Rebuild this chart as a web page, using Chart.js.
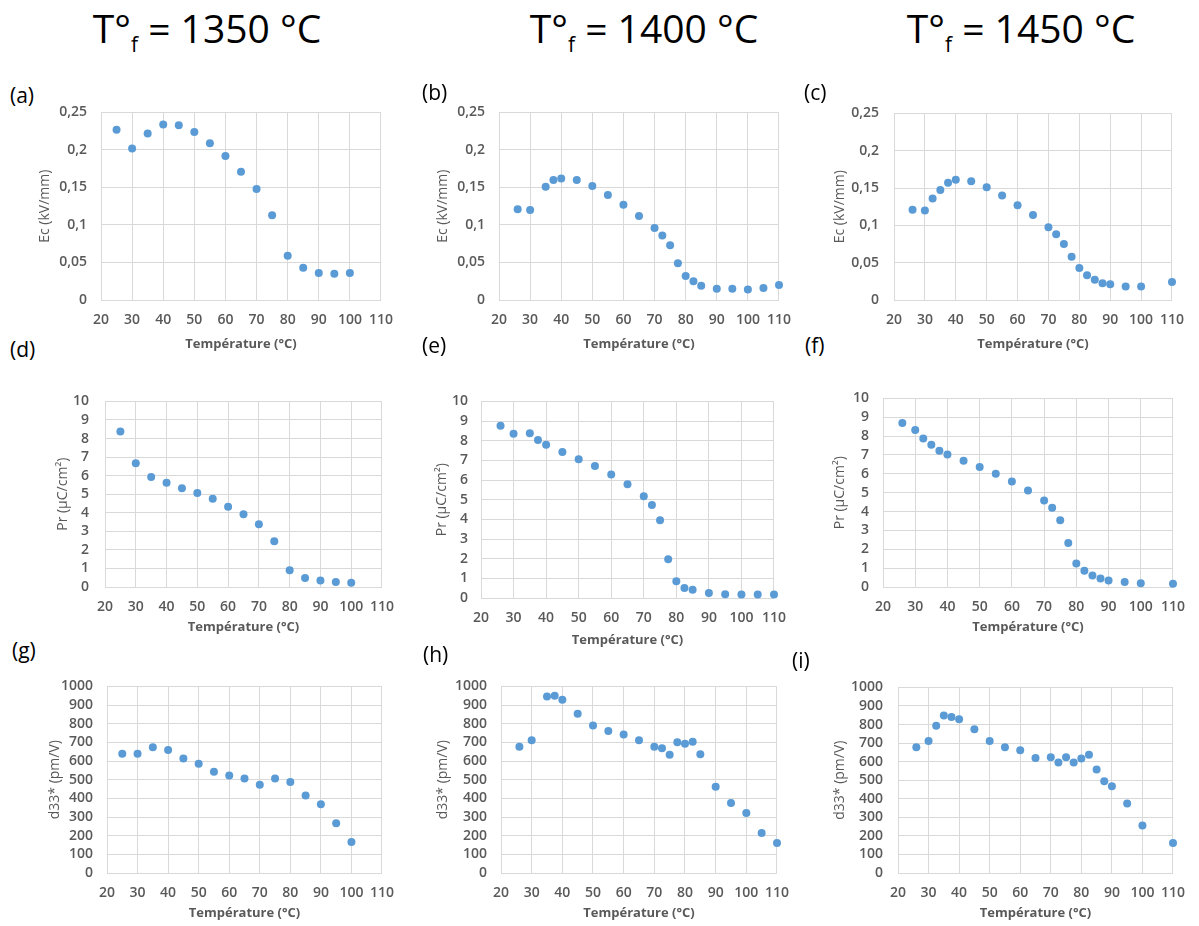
<!DOCTYPE html>
<html>
<head>
<meta charset="utf-8">
<script src="https://cdn.jsdelivr.net/npm/chart.js@4.4.0/dist/chart.umd.min.js"></script>
<style>
  body { margin: 0; background: #fff; width: 1199px; height: 926px; position: relative; overflow: hidden; }
  .titre { position: absolute; top: 8px; width: 300px; text-align: center; font-family: 'Open Sans', sans-serif; font-size: 39px; line-height: 1; color: #000; white-space: nowrap; }
  .titre sub { font-size: 21px; vertical-align: -9px; line-height: 0; }
  .lettre { position: absolute; font-family: 'Open Sans', sans-serif; font-size: 21px; color: #000; line-height: 1; }
  canvas { position: absolute; }
</style>
</head>
<body>
<div class="titre" style="left:57px">T°<sub>f</sub> = 1350 °C</div>
<div class="titre" style="left:494px">T°<sub>f</sub> = 1400 °C</div>
<div class="titre" style="left:871px">T°<sub>f</sub> = 1450 °C</div>

<script>
// températures (°C)
const temp1350 = [25, 30, 35, 40, 45, 50, 55, 60, 65, 70, 75, 80, 85, 90, 95, 100]
const temp1400 = [26, 30, 35, 37.5, 40, 45, 50, 55, 60, 65, 70, 72.5, 75, 77.5, 80, 82.5, 85, 90, 95, 100, 105, 110]
const temp1450 = [26, 30, 32.5, 35, 37.5, 40, 45, 50, 55, 60, 65, 70, 72.5, 75, 77.5, 80, 82.5, 85, 87.5, 90, 95, 100, 110]

// champ coercitif Ec (kV/mm)
const ec1350 = [0.227, 0.202, 0.222, 0.234, 0.233, 0.224, 0.209, 0.192, 0.171, 0.148, 0.113, 0.059, 0.043, 0.036, 0.035, 0.036]
const ec1400 = [0.121, 0.120, 0.151, 0.160, 0.162, 0.160, 0.152, 0.140, 0.127, 0.112, 0.096, 0.086, 0.073, 0.049, 0.032, 0.025, 0.019, 0.015, 0.015, 0.014, 0.016, 0.020]
const ec1450 = [0.121, 0.120, 0.136, 0.1475, 0.157, 0.161, 0.159, 0.151, 0.140, 0.127, 0.114, 0.0975, 0.088, 0.075, 0.058, 0.043, 0.033, 0.027, 0.0225, 0.021, 0.018, 0.018, 0.024]

// polarisation rémanente Pr (µC/cm²)
const pr1350 = [8.38, 6.67, 5.93, 5.62, 5.32, 5.07, 4.75, 4.33, 3.92, 3.38, 2.47, 0.90, 0.48, 0.35, 0.27, 0.23]
const pr1400 = [8.76, 8.35, 8.38, 8.04, 7.80, 7.43, 7.06, 6.71, 6.28, 5.78, 5.17, 4.73, 3.95, 1.97, 0.85, 0.51, 0.42, 0.26, 0.19, 0.18, 0.18, 0.18]
const pr1450 = [8.70, 8.32, 7.87, 7.54, 7.23, 7.03, 6.69, 6.36, 6.01, 5.60, 5.12, 4.58, 4.20, 3.54, 2.33, 1.25, 0.86, 0.61, 0.45, 0.35, 0.27, 0.20, 0.17]

// d33* (pm/V)
const d33_1350 = [639, 639, 674, 659, 614, 585, 543, 522, 507, 473, 507, 488, 415, 368, 266, 166]
const d33_1400 = [677, 711, 946, 950, 928, 854, 791, 761, 742, 711, 677, 669, 634, 701, 692, 704, 637, 462, 375, 321, 214, 161]
const d33_1450 = [677, 711, 794, 848, 841, 829, 774, 711, 677, 662, 619, 624, 595, 624, 595, 617, 637, 557, 495, 467, 375, 256, 162]

// étiquettes des axes
const ticksTemp = ['20', '30', '40', '50', '60', '70', '80', '90', '100', '110']
const ticksEc = ['0', '0,05', '0,1', '0,15', '0,2', '0,25']
const ticksPr = ['0', '1', '2', '3', '4', '5', '6', '7', '8', '9', '10']
const ticksD33 = ['0', '100', '200', '300', '400', '500', '600', '700', '800', '900', '1000']

const gris = '#d9d9d9'
const texte = '#595959'
const bleu = '#5b9bd5'

const panneau = (p) => {
    const padTop = 10, padRight = 18
    const W = p.axeX - p.titreY + 8      // largeur axe y
    const H = p.titreX + 8               // hauteur axe x
    const cv = document.createElement('canvas')
    cv.width = (p.droite - p.axeX) + W + padRight
    cv.height = (p.bas - p.haut) + padTop + H
    cv.style.left = (p.axeX - W) + 'px'
    cv.style.top = (p.haut - padTop) + 'px'
    document.body.appendChild(cv)

    const lettre = document.createElement('div')
    lettre.className = 'lettre'
    lettre.textContent = p.lettre[0]
    lettre.style.left = p.lettre[1] + 'px'
    lettre.style.top = p.lettre[2] + 'px'
    document.body.appendChild(lettre)

    new Chart(cv, {
        type: 'scatter',
        data: {
            datasets: [{
                data: p.x.map((t, i) => ({ x: t, y: p.y[i] })),
                backgroundColor: bleu,
                borderColor: bleu,
                borderWidth: 0,
                pointRadius: 4,
                pointHoverRadius: 4,
                clip: false
            }]
        },
        options: {
            responsive: false,
            animation: false,
            events: [],
            layout: { padding: { top: padTop, right: padRight, left: 0, bottom: 0 } },
            plugins: { legend: { display: false }, tooltip: { enabled: false } },
            scales: {
                x: {
                    type: 'linear', min: 20, max: 110,
                    afterFit: (s) => { s.height = H },
                    grid: { color: gris, drawTicks: false },
                    border: { color: gris },
                    ticks: {
                        stepSize: 10, padding: p.padX, color: texte, autoSkip: false, maxRotation: 0,
                        font: { family: 'Open Sans', size: 14, weight: '600' },
                        callback: (v) => ticksTemp[Math.round((v - 20) / 10)]
                    },
                    title: {
                        display: true, text: 'Température (°C)', color: texte, padding: 0,
                        font: { family: 'Open Sans', size: 13, weight: 'bold' }
                    }
                },
                y: {
                    type: 'linear', min: 0, max: p.max,
                    afterFit: (s) => { s.width = W },
                    grid: { color: gris, drawTicks: false },
                    border: { color: gris },
                    ticks: {
                        stepSize: p.pas, padding: p.padY, color: texte, autoSkip: false,
                        font: { family: 'Open Sans', size: 14, weight: '600' },
                        callback: (v) => p.etiquettes[Math.round(v / p.pas)]
                    },
                    title: {
                        display: true, text: p.titre, color: texte, padding: 0,
                        font: { family: 'Open Sans', size: 14 }
                    }
                }
            }
        }
    })
}

const ec = { max: 0.25, pas: 0.05, etiquettes: ticksEc, titre: 'Ec (kV/mm)' }
const pr = { max: 10, pas: 1, etiquettes: ticksPr, titre: 'Pr (µC/cm²)' }
const d33 = { max: 1000, pas: 100, etiquettes: ticksD33, titre: 'd33* (pm/V)' }

panneau({ ...ec, x: temp1350, y: ec1350, axeX: 101, droite: 387, haut: 100, bas: 300, titreY: 45, padY: 14, padX: 12, titreX: 44, lettre: ['(a)', 10, 85] })
panneau({ ...ec, x: temp1400, y: ec1400, axeX: 499, droite: 785, haut: 100, bas: 300, titreY: 443, padY: 14, padX: 12, titreX: 44, lettre: ['(b)', 422, 82] })
panneau({ ...ec, x: temp1450, y: ec1450, axeX: 894, droite: 1178, haut: 100, bas: 300, titreY: 840, padY: 15, padX: 12, titreX: 44, lettre: ['(c)', 804, 82] })

panneau({ ...pr, x: temp1350, y: pr1350, axeX: 105, droite: 388, haut: 387, bas: 587, titreY: 63, padY: 16, padX: 12, titreX: 40, lettre: ['(d)', 10, 339] })
panneau({ ...pr, x: temp1400, y: pr1400, axeX: 481, droite: 780, haut: 390, bas: 598, titreY: 442, padY: 13, padX: 12, titreX: 42, lettre: ['(e)', 422, 335] })
panneau({ ...pr, x: temp1450, y: pr1450, axeX: 883, droite: 1179, haut: 386, bas: 587, titreY: 840, padY: 14, padX: 12, titreX: 40, lettre: ['(f)', 805, 335] })

panneau({ ...d33, x: temp1350, y: d33_1350, axeX: 107, droite: 388, haut: 674, bas: 873, titreY: 55, padY: 14, padX: 12, titreX: 40, lettre: ['(g)', 12, 640] })
panneau({ ...d33, x: temp1400, y: d33_1400, axeX: 501, droite: 783, haut: 674, bas: 873, titreY: 443, padY: 14, padX: 12, titreX: 40, lettre: ['(h)', 423, 644] })
panneau({ ...d33, x: temp1450, y: d33_1450, axeX: 898, droite: 1179, haut: 674, bas: 873, titreY: 840, padY: 15, padX: 12, titreX: 40, lettre: ['(i)', 792, 650] })
</script>
</body>
</html>
